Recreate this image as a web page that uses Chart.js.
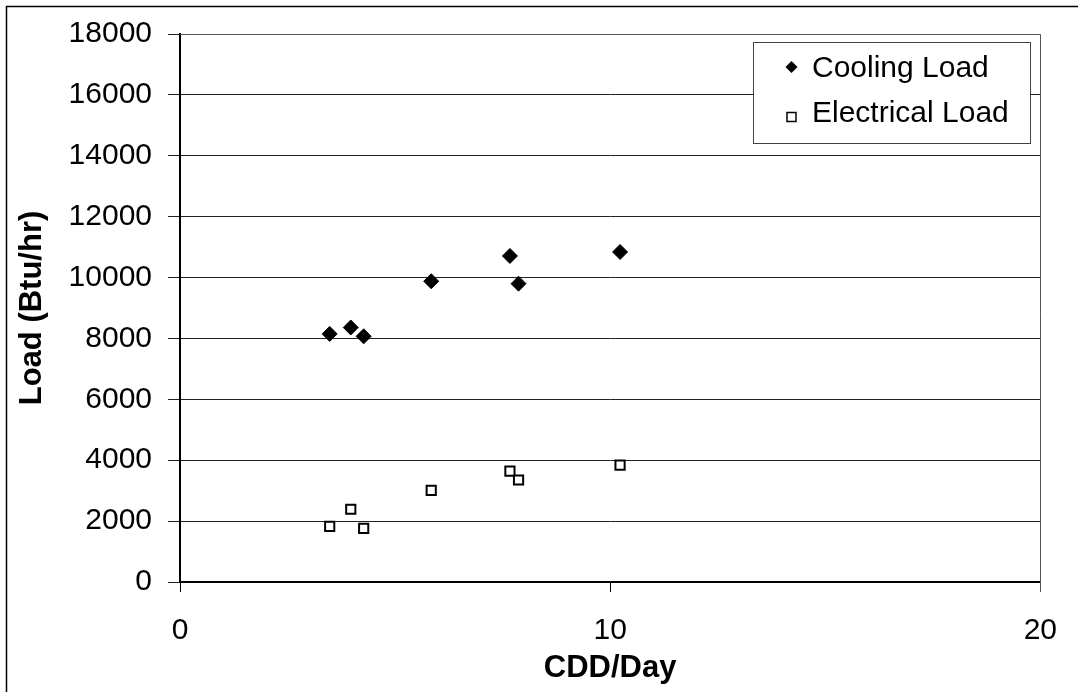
<!DOCTYPE html>
<html>
<head>
<meta charset="utf-8">
<script src="https://cdn.jsdelivr.net/npm/chart.js@4/dist/chart.umd.min.js"></script>
<style>
  body { margin: 0; background: #fff; }
  #wrap { width: 1078px; height: 692px; }
</style>
</head>
<body>
<div id="wrap"><canvas id="chart" width="1078" height="692"></canvas></div>
<script>
// CDD per day for each metered period
var cddPerDay = [3.48, 3.97, 4.27, 5.84, 7.67, 7.87, 10.23];
// loads in Btu/hr at those periods
var coolingLoad = [8150, 8360, 8070, 9880, 10710, 9800, 10840];
var electricalLoad = [1830, 2390, 1760, 3010, 3640, 3350, 3840];

var FONT = "'Liberation Sans', Arial, sans-serif";

function toPoints(xs, ys) {
    return xs.map(function (x, i) { return { x: x, y: ys[i] }; });
}

// plain numbers, no thousands separator
function plainTick(value) {
    return String(value);
}

// white background + outer frame + plot area border
var framePlugin = {
    id: 'frame',
    beforeDraw: function (chart) {
        var ctx = chart.ctx;
        ctx.save();
        ctx.fillStyle = '#fff';
        ctx.fillRect(0, 0, chart.width, chart.height);
        ctx.strokeStyle = '#000';
        ctx.lineWidth = 1.5;
        ctx.strokeRect(6.5, 6.5, chart.width + 10, chart.height + 10);
        ctx.restore();
    },
    beforeDatasetsDraw: function (chart) {
        var a = chart.chartArea;
        var ctx = chart.ctx;
        ctx.save();
        ctx.strokeStyle = '#555';
        ctx.lineWidth = 1;
        ctx.beginPath();
        ctx.moveTo(a.left, a.top + 0.5);
        ctx.lineTo(Math.round(a.right) + 0.5, a.top + 0.5);
        ctx.lineTo(Math.round(a.right) + 0.5, a.bottom + 10);
        ctx.stroke();
        ctx.restore();
    }
};

// boxed legend sitting inside the plot area, top right
var boxLegend = {
    id: 'boxLegend',
    afterDraw: function (chart) {
        var ctx = chart.ctx;
        ctx.save();
        ctx.fillStyle = '#fff';
        ctx.fillRect(753, 42, 277, 101);
        ctx.strokeStyle = '#444';
        ctx.lineWidth = 1;
        ctx.strokeRect(753.5, 42.5, 277, 101);

        ctx.font = '30px ' + FONT;
        ctx.fillStyle = '#000';
        ctx.textBaseline = 'middle';
        ctx.textAlign = 'left';
        ctx.fillText(chart.data.datasets[0].label, 812, 69);
        ctx.fillText(chart.data.datasets[1].label, 812, 114);

        // diamond
        ctx.beginPath();
        ctx.moveTo(791.5, 61);
        ctx.lineTo(797.5, 67);
        ctx.lineTo(791.5, 73);
        ctx.lineTo(785.5, 67);
        ctx.closePath();
        ctx.fillStyle = '#000';
        ctx.fill();

        // open square
        ctx.fillStyle = '#fff';
        ctx.strokeStyle = '#000';
        ctx.lineWidth = 1.5;
        ctx.fillRect(787, 112.5, 9, 9);
        ctx.strokeRect(787, 112.5, 9, 9);
        ctx.restore();
    }
};

var ctx = document.getElementById('chart').getContext('2d');
var chart = new Chart(ctx, {
    type: 'scatter',
    data: {
        datasets: [{
            label: 'Cooling Load',
            data: toPoints(cddPerDay, coolingLoad),
            pointStyle: 'rectRot',
            pointRadius: 7.5,
            backgroundColor: '#000',
            borderColor: '#000',
            borderWidth: 1
        }, {
            label: 'Electrical Load',
            data: toPoints(cddPerDay, electricalLoad),
            pointStyle: 'rect',
            pointRadius: 6.5,
            backgroundColor: '#fff',
            borderColor: '#000',
            borderWidth: 2
        }]
    },
    options: {
        responsive: false,
        animation: false,
        layout: { padding: { left: 0, top: 32, right: 35, bottom: 0 } },
        plugins: {
            legend: { display: false },
            tooltip: { enabled: false }
        },
        scales: {
            x: {
                type: 'linear',
                min: 0,
                max: 20,
                afterFit: function (scale) { scale.height = 110; },
                ticks: {
                    stepSize: 10,
                    color: '#000',
                    padding: 21,
                    callback: plainTick,
                    font: { family: FONT, size: 30 }
                },
                grid: {
                    drawOnChartArea: false,
                    drawTicks: true,
                    tickLength: 10,
                    color: '#000'
                },
                border: { display: true, color: '#000', width: 2 },
                title: {
                    display: true,
                    text: 'CDD/Day',
                    color: '#000',
                    padding: { top: 0, bottom: 5 },
                    font: { family: FONT, size: 31, weight: 'bold' }
                }
            },
            y: {
                min: 0,
                max: 18000,
                afterFit: function (scale) { scale.width = 180; },
                ticks: {
                    stepSize: 2000,
                    color: '#000',
                    padding: 16,
                    callback: plainTick,
                    font: { family: FONT, size: 30 }
                },
                grid: {
                    color: '#222',
                    lineWidth: 1,
                    drawTicks: true,
                    tickLength: 12
                },
                border: { display: true, color: '#000', width: 2 },
                title: {
                    display: true,
                    text: 'Load (Btu/hr)',
                    color: '#000',
                    padding: { top: 14, bottom: 0 },
                    font: { family: FONT, size: 31, weight: 'bold' }
                }
            }
        }
    },
    plugins: [framePlugin, boxLegend]
});
</script>
</body>
</html>
